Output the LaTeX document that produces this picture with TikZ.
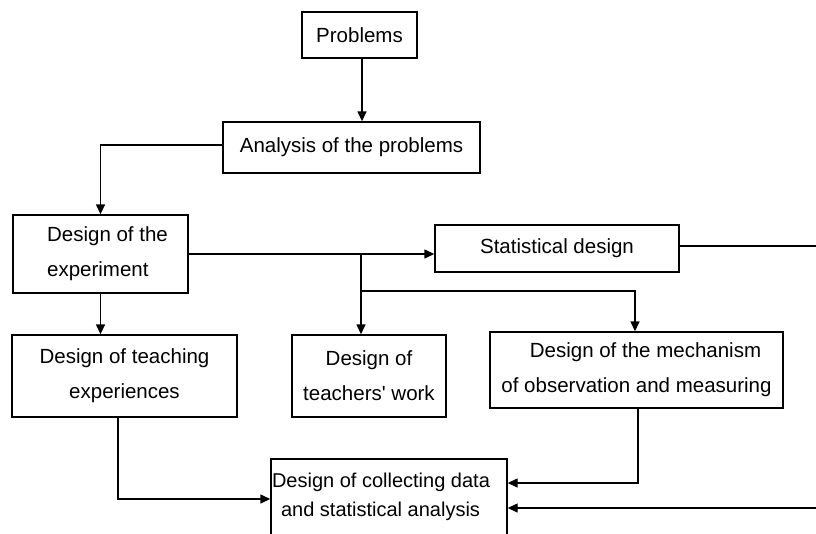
\documentclass[tikz,border=0pt]{standalone}
\usepackage{fontspec}
\setmainfont{Liberation Sans}
\usetikzlibrary{arrows.meta,calc}
\begin{document}
\begin{tikzpicture}[x=1pt,y=-1pt,
  box/.style={draw,line width=1.4pt,inner sep=0pt,align=center,
    font=\fontsize{20.5}{35}\selectfont},
  conn/.style={line width=1.4pt},
  arr/.style={conn,-{Triangle[length=10pt,width=9pt]}}]
\clip (0,0) rectangle (816,533);
\fill[white] (0,0) rectangle (816,533);
\node[box,minimum width=115pt,minimum height=46pt] (prob) at (359.5,35) {Problems};
\node[box,minimum width=257pt,minimum height=51pt] (anal) at (351.5,147.5) {Analysis of the problems};
\node[box,minimum width=175pt,minimum height=78pt,align=left] (exp) at (100.5,254) {\hspace*{14pt}Design of the\\\hspace*{14pt}experiment};
\node[box,minimum width=244pt,minimum height=47pt] (stat) at (557,248.5) {Statistical design};
\node[box,minimum width=225pt,minimum height=82pt] (teach) at (124.5,376) {Design of teaching\\experiences};
\node[box,minimum width=154pt,minimum height=82pt] (tw) at (369,376) {Design of\\teachers\textquotesingle\ work};
\node[box,minimum width=293pt,minimum height=76pt] (mech) at (636.5,370) {\hspace*{18pt}Design of the mechanism\\of observation and measuring};
\node[box,minimum width=236pt,minimum height=76pt,align=left,font=\fontsize{20}{29.5}\selectfont] (coll) at (389,497) {Design of collecting data\hspace*{16pt}\\\hspace*{9pt}and statistical analysis};
% connectors
\coordinate (p1) at ($(prob.south)+(2.5,0)$);
\draw[arr] (p1) -- (p1 |- anal.north);
\draw[arr] ($(anal.west)+(0,-2.5)$) -| (exp.north);
\draw[arr] (exp.east) -- (exp.east -| stat.west);
\coordinate (b1) at (361,254);
\coordinate (b2) at (361,291);
\coordinate (b3) at (635,291);
\draw[arr] (b1) -- (b1 |- tw.north);
\draw[arr] (b2) -- (b3) -- (b3 |- mech.north);
\draw[arr] (exp.south) -- (exp.south |- teach.north);
\coordinate (r1) at (816,246);
\draw[conn] (stat.east |- r1) -- (r1);
\coordinate (t1) at (118,499);
\draw[arr] (t1 |- teach.south) -- (t1) -- (t1 -| coll.west);
\coordinate (m1) at (638,483);
\draw[arr] (m1 |- mech.south) -- (m1) -- (m1 -| coll.east);
\coordinate (r2) at (816,508);
\draw[arr] (r2) -- (r2 -| coll.east);
\end{tikzpicture}
\end{document}
